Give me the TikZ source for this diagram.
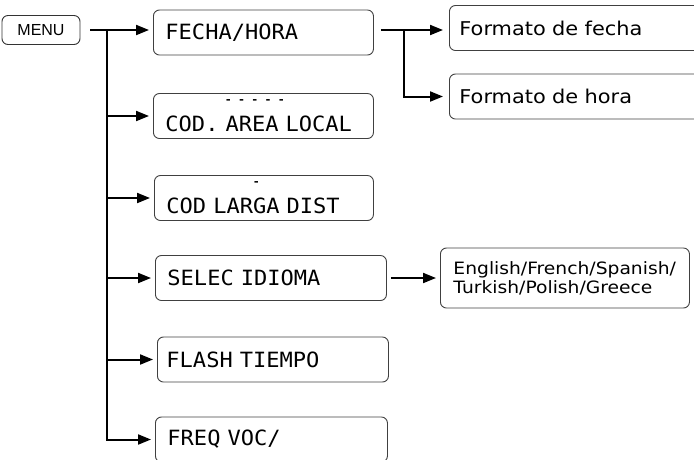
\documentclass[tikz,border=0pt]{standalone}
\usepackage{fontspec}
\setmainfont{DejaVu Sans}
\newfontfamily\lcdfont[FakeStretch=1.05]{DejaVu Sans Mono}
\newfontfamily\boxfont[FakeStretch=1.1]{DejaVu Sans}
\newfontfamily\keyfont{Liberation Sans}
\usetikzlibrary{arrows.meta,positioning}

\begin{document}
\begin{tikzpicture}[x=1pt,y=-1pt,>={Triangle[length=13pt,width=10pt]},line width=2pt,
        key node/.style={draw=black!80,line width=0.9pt,rounded corners=6pt,minimum width=78pt,
          minimum height=29pt,inner sep=0pt,font=\keyfont\fontsize{16}{18}\selectfont},
        lcd node/.style={draw=black!75,line width=0.9pt,rounded corners=6pt,anchor=west,
          minimum height=45pt,inner xsep=12pt,inner ysep=2pt,text width=#1,align=left,
          font=\lcdfont\fontsize{21}{28}\selectfont},
        lcd node/.default=196pt,
        sub node/.style={draw=black!75,line width=0.9pt,rounded corners=6pt,anchor=west,
          minimum height=45pt,inner xsep=10pt,text width=#1,align=left,
          font=\boxfont\fontsize{19}{22}\selectfont},
        sub node/.default=250pt]
        \clip (0,0) rectangle (694,459);
        \useasboundingbox (0,0) rectangle (694,459);
        \node[key node] (menu) at (41,30) {MENU};
        % menu entries
        \node[lcd node] (fecha) at (153,32.5) {FECHA/HORA};
        \node[lcd node] (area) at (153,116) {{\bfseries\fontsize{11}{11}\selectfont\hspace*{59.5pt}-\hspace{6.3pt}-\hspace{6.3pt}-\hspace{6.3pt}-\hspace{6.3pt}-}\\COD. AREA LOCAL};
        \node[lcd node=195pt] (larga) at (154,198) {{\bfseries\fontsize{11}{11}\selectfont\hspace*{86.5pt}-}\\COD LARGA DIST};
        \node[lcd node=207pt] (idioma) at (155,278) {SELEC IDIOMA};
        \node[lcd node=213pt,inner xsep=9pt] (flash) at (157,359.5) {FLASH TIEMPO};
        \node[lcd node=208pt] (freq) at (155,439.5) {FREQ VOC/};
        % sub menus
        \node[sub node] (fechafmt) at (449,28) {Formato de fecha};
        \node[sub node] (horafmt) at (449,96.5) {Formato de hora};
        \node[sub node=223pt,minimum height=60pt,inner xsep=13pt,
          font=\boxfont\fontsize{17}{19}\selectfont] (lang) at (440,278)
          {English/French/Spanish/\\Turkish/Polish/Greece};
        \coordinate (trunk) at (107,30);
        \coordinate (split) at (404,30);
        \draw[->,shorten <=10pt,shorten >=4pt] (menu.east) -- (fecha.west |- menu.east);
        \draw[->,shorten >=4pt] (trunk) |- (freq.west);
        \draw[->,shorten >=4pt] (trunk |- area.west) -- (area.west);
        \draw[->,shorten >=4pt] (trunk |- larga.west) -- (larga.west);
        \draw[->,shorten >=4pt] (trunk |- idioma.west) -- (idioma.west);
        \draw[->,shorten >=4pt] (trunk |- flash.west) -- (flash.west);
        \draw[->,shorten <=7pt,shorten >=6pt] (fecha.east |- menu.east) -- (fechafmt.west |- menu.east);
        \draw[->,shorten >=6pt] (split) |- (horafmt.west);
        \draw[->,shorten <=4pt,shorten >=4pt] (idioma) -- (lang);
\end{tikzpicture}
\end{document}
